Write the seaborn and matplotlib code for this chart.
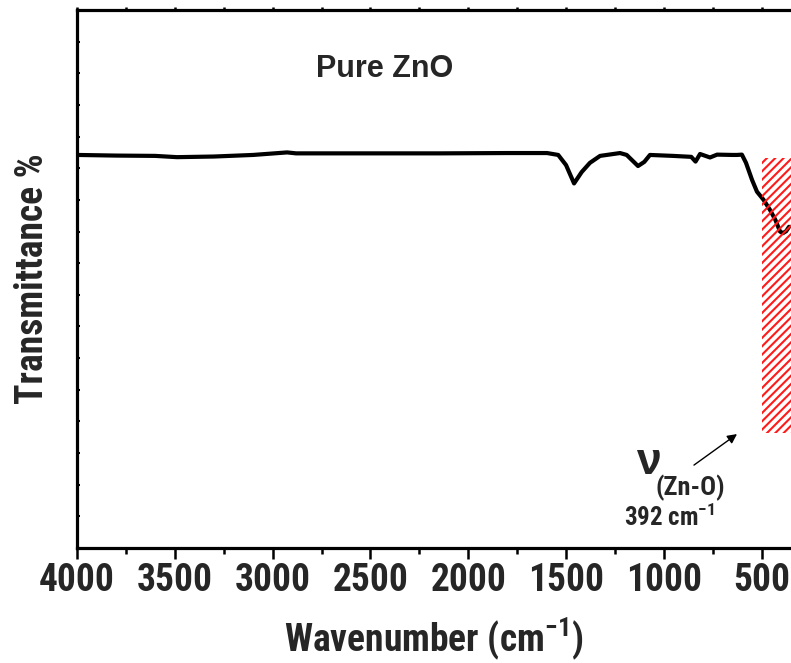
import numpy as np
import pandas as pd
import seaborn as sns
import matplotlib
matplotlib.use("Agg")
import matplotlib.pyplot as plt
from matplotlib import font_manager as fm
from matplotlib.patches import Rectangle
from matplotlib.ticker import MultipleLocator

# FTIR spectrum of pure ZnO (transmittance, arbitrary units)
wavenumber = [4000, 3800, 3600, 3489, 3300, 3100, 2926, 2880, 2500, 2144,
              1800, 1597, 1540, 1500, 1459, 1420, 1378, 1326, 1224, 1190,
              1132, 1100, 1071, 953, 860, 838, 815, 764, 728, 650,
              626, 601, 580, 549, 524, 490, 457, 430, 406, 391,
              375, 360]
transmittance = [12.42, 12.40, 12.39, 12.35, 12.37, 12.42, 12.50, 12.47, 12.47, 12.47,
                 12.48, 12.48, 12.42, 12.10, 11.52, 11.88, 12.17, 12.39, 12.48, 12.42,
                 12.07, 12.20, 12.42, 12.39, 12.36, 12.21, 12.45, 12.34, 12.43, 12.42,
                 12.42, 12.43, 12.17, 11.63, 11.26, 11.00, 10.68, 10.37, 10.00, 9.95,
                 10.01, 10.15]

band_range = [500, 350]          # shaded Zn-O stretching region (cm-1)
band_level = [3.63, 12.32]       # vertical extent of the shaded region
peak_label = "392 cm$^{-1}$"
x_ticks = [4000, 3500, 3000, 2500, 2000, 1500, 1000, 500]

sns.set_theme(style="ticks")

# pick a condensed sans-serif for the axis text
fonts = fm.fontManager.ttflist
names = {f.name for f in fonts}
narrow_family, narrow_stretch = None, "normal"
for cand in ["Liberation Sans Narrow", "Arial Narrow", "Roboto Condensed",
             "Open Sans Condensed", "DejaVu Sans Condensed"]:
    if cand in names:
        narrow_family = cand
        break
if narrow_family is None:
    for f in fonts:
        st = str(f.stretch).lower()
        if "condensed" in st or st in ("semi-condensed",) or (
                isinstance(f.stretch, (int, float)) and f.stretch < 500):
            narrow_family, narrow_stretch = f.name, "condensed"
            break
if narrow_family is None:
    narrow_family = "Liberation Sans" if "Liberation Sans" in names else "DejaVu Sans"
regular = "Liberation Sans" if "Liberation Sans" in names else "DejaVu Sans"

plt.rcParams["font.family"] = [narrow_family, "DejaVu Sans"]
plt.rcParams["font.stretch"] = narrow_stretch
plt.rcParams["mathtext.fontset"] = "custom"
plt.rcParams["mathtext.rm"] = f"{narrow_family}:bold"
plt.rcParams["mathtext.it"] = f"{narrow_family}:bold"
plt.rcParams["mathtext.bf"] = f"{narrow_family}:bold"
plt.rcParams["mathtext.default"] = "rm"
plt.rcParams["hatch.linewidth"] = 1.5
plt.rcParams["hatch.color"] = "#ff1a1a"

fig = plt.figure(figsize=(7.91, 6.63), dpi=100)
ax = fig.add_axes([77 / 791, 1 - 548 / 663, 1 - 77 / 791, (548 - 10) / 663])

df = pd.DataFrame({"Wavenumber": wavenumber, "T": transmittance})
sns.lineplot(data=df, x="Wavenumber", y="T", ax=ax, color="black",
             linewidth=3.0, estimator=None, sort=True)

ax.add_patch(Rectangle((band_range[0], band_level[0]),
                       band_range[1] - band_range[0],
                       band_level[1] - band_level[0],
                       facecolor="none", edgecolor="#ff1a1a", hatch="////",
                       linewidth=0, zorder=3))

ax.set_xlim(4000, 350)
ax.set_ylim(0, 17)
ax.set_xticks(x_ticks)
ax.xaxis.set_minor_locator(MultipleLocator(250))
ax.yaxis.set_major_locator(MultipleLocator(1))
ax.set_yticklabels([])

for side in ["left", "bottom", "top"]:
    ax.spines[side].set_linewidth(2.3)
    ax.spines[side].set_color("black")
ax.spines["right"].set_visible(False)

ax.tick_params(axis="x", which="major", direction="out", length=8, width=1.8,
               labelsize=27, pad=2, top=True, color="black")
ax.tick_params(axis="x", which="minor", direction="out", length=4, width=1.8,
               top=True, color="black")
ax.tick_params(axis="y", which="major", direction="in", length=2, width=1.5,
               color="black", labelleft=False)
for t in ax.xaxis.get_major_ticks() + ax.xaxis.get_minor_ticks():
    t.tick2line.set_markersize(2.5)
for lbl in ax.get_xticklabels():
    lbl.set_fontweight("bold")
    lbl.set_fontstretch(narrow_stretch)

ax.set_xlabel("Wavenumber (cm$^{-1}$)", fontsize=27, fontweight="bold",
              fontstretch=narrow_stretch, labelpad=12)
ax.set_ylabel("Transmittance %", fontsize=27, fontweight="bold",
              fontstretch=narrow_stretch, labelpad=19)

ax.text(2425, 15.13, "Pure ZnO", fontsize=22, fontweight="bold",
        family=[regular, "DejaVu Sans"], fontstretch="normal",
        ha="center", va="center")

ax.text(1080, 2.70, "\u03bd", fontsize=32, fontweight="bold",
        family=[regular, "DejaVu Sans"], fontstretch="normal",
        ha="center", va="center")
ax.text(866, 1.90, "(Zn-O)", fontsize=19, fontweight="bold",
        fontstretch=narrow_stretch, ha="center", va="center")
ax.text(974, 0.95, peak_label, fontsize=18, fontweight="bold",
        fontstretch=narrow_stretch, ha="center", va="center")
ax.annotate("", xy=(626, 3.60), xytext=(846, 2.62),
            arrowprops=dict(arrowstyle="-|>", color="black", lw=1.0,
                            mutation_scale=14, shrinkA=0, shrinkB=0))

fig.savefig("out.png", dpi=100)
